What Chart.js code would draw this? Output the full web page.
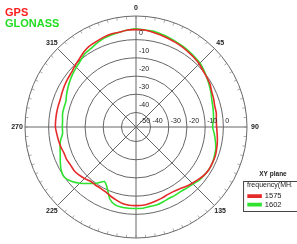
<!DOCTYPE html>
<html>
 <head>
  <meta charset="utf-8" />
  <title></title>
  <style>
   html, body { margin: 0; padding: 0; background: #fff; }
   canvas { display: block; }
  </style>
 </head>
 <body>
    <canvas id="xyChart" width="297" height="244"></canvas>

    <script src="https://cdn.jsdelivr.net/npm/chart.js@4/dist/chart.umd.min.js"></script>
  <script>

// azimuth every 5 degrees
var azimuth = ['0','5','10','15','20','25','30','35','40','45','50','55','60','65','70','75','80','85',
  '90','95','100','105','110','115','120','125','130','135','140','145','150','155','160','165','170','175',
  '180','185','190','195','200','205','210','215','220','225','230','235','240','245','250','255','260','265',
  '270','275','280','285','290','295','300','305','310','315','320','325','330','335','340','345','350','355'];

// gain in dB
var gps1575 = [5.5,5.5,4.9,4.4,3.8,3.3,2.8,2.2,1.7,1.1,
  0.1,-0.5,-1.0,-2.1,-2.6,-3.2,-3.2,-3.7,-3.7,-3.2,
  -2.6,-2.1,-1.6,-1.6,-1.6,-2.1,-3.2,-4.3,-5.3,-6.4,
  -7.0,-7.0,-6.4,-5.9,-5.3,-4.8,-4.8,-4.8,-5.3,-6.4,
  -7.5,-8.6,-9.1,-9.1,-9.1,-8.0,-7.0,-6.4,-6.4,-5.9,
  -5.9,-5.3,-4.8,-4.3,-3.7,-3.7,-3.7,-3.7,-3.7,-3.2,
  -2.6,-2.1,-1.6,-0.5,0.6,2.2,3.3,3.8,4.4,4.9,
  4.9,5.5];
var glonass1602 = [6.0,5.5,5.5,4.9,4.4,3.8,3.3,2.8,2.2,1.7,
  0.6,-0.5,-1.6,-2.6,-3.7,-4.3,-4.8,-5.3,-5.9,-4.8,
  -3.7,-2.6,-2.1,-1.6,-1.6,-2.1,-2.6,-3.7,-4.3,-4.8,
  -4.8,-4.8,-4.3,-3.7,-3.7,-3.2,-3.2,-3.2,-3.2,-3.7,
  -5.9,-10.7,-13.4,-10.2,-7.5,-4.3,-1.6,0.1,-0.5,-2.1,
  -3.7,-4.8,-5.9,-7.5,-7.5,-7.5,-7.0,-7.0,-7.0,-5.9,
  -4.8,-3.7,-2.6,-1.6,-0.5,1.1,1.7,2.8,3.8,4.4,
  4.9,5.5];

var rings = [-40, -30, -20, -10, 0, 13];
var vertTicks = ['-40','-30','-20','-10','0'];
var horizTicks = ['-50','-40','-30','-20','-10','0'];
var angleTicks = ['0','45','90','135','225','270','315'];

var red = '#e52a2a';
var green = '#2fe22f';
var gridCol = '#666';
var FONT = '"Liberation Sans", Arial, sans-serif';

/////////extra texts + tick labels
var decor = {
  id: 'decor',
  afterDraw: function (chart) {
    var ctx = chart.ctx;
    var sc = chart.scales.r;
    var cx = sc.xCenter, cy = sc.yCenter;
    var outer = sc.getDistanceFromCenterForValue(sc.max);
    ctx.save();

    // minor ticks on outer ring, one per azimuth label
    ctx.strokeStyle = '#888';
    ctx.lineWidth = 0.7;
    azimuth.forEach(function (lab, i) {
      var p0 = sc.getPointPosition(i, outer - 3);
      var p1 = sc.getPointPosition(i, outer);
      ctx.beginPath();
      ctx.moveTo(p0.x, p0.y);
      ctx.lineTo(p1.x, p1.y);
      ctx.stroke();
    });

    ctx.fillStyle = '#222';
    ctx.font = '7px ' + FONT;
    ctx.textBaseline = 'middle';
    ctx.textAlign = 'left';
    vertTicks.forEach(function (t) {
      var d = sc.getDistanceFromCenterForValue(Number(t));
      ctx.fillText(t, cx + 3, cy - d - 7);
    });
    horizTicks.forEach(function (t) {
      var d = Math.max(sc.getDistanceFromCenterForValue(Number(t)), 2);
      ctx.fillText(t, cx + d + 2, cy - 6);
    });

    ctx.font = 'bold 7px ' + FONT;
    ctx.textAlign = 'center';
    angleTicks.forEach(function (t) {
      var p = sc.getPointPosition(azimuth.indexOf(t), outer + 8);
      ctx.fillText(t, p.x, p.y);
    });

    ctx.font = 'bold 11px ' + FONT;
    ctx.textAlign = 'left';
    ctx.fillStyle = '#ff1c1c';
    ctx.fillText('GPS', 5, 13);
    ctx.fillStyle = '#22dd22';
    ctx.fillText('GLONASS', 5, 24);

    ctx.fillStyle = '#222';
    ctx.font = 'bold 6.5px ' + FONT;
    ctx.textAlign = 'center';
    ctx.fillText('XY plane', 273, 174);

    // frame round the legend
    var lg = chart.legend;
    ctx.strokeStyle = '#444';
    ctx.lineWidth = 1;
    ctx.strokeRect(lg.left - 3.5, lg.top + 167.5, 80, 30);
    ctx.restore();
  }
};

var popCanvas = document.getElementById("xyChart");
var radarChart = new Chart(popCanvas, {
    type: 'radar',
    data: {
        labels: azimuth,
        datasets: [
        {
        label: '1575',
        data: gps1575,
        fill: false,
        borderColor: red,
        backgroundColor: red,
        borderWidth: 1.6,
        pointRadius: 0,
        tension: 0.2
        },
        {
        label: '1602',
        data: glonass1602,
        fill: false,
        borderColor: green,
        backgroundColor: green,
        borderWidth: 1.6,
        pointRadius: 0,
        tension: 0.2
        }]
    },
    options: {
        responsive: false,
        animation: false,
        layout: { padding: { left: 25, right: 5.5, top: 14, bottom: 4 } },
        scales: {
            r: {
                min: -48,
                max: 13,
                afterBuildTicks: function (scale) {
                    scale.ticks = rings.map(function (v) { return { value: v }; });
                },
                ticks: { display: false },
                grid: { circular: true, color: gridCol, lineWidth: 1 },
                angleLines: {
                    color: gridCol,
                    lineWidth: function (c) { return c.index % 9 === 0 ? 1 : 0; }
                },
                pointLabels: { display: false }
            }
        },
        plugins: {
            tooltip: { enabled: false },
            legend: {
                position: 'right',
                align: 'start',
                title: {
                    display: true,
                    text: 'frequency(MHz)',
                    position: 'start',
                    color: '#222',
                    font: { family: FONT, size: 7 },
                    padding: { top: 168, bottom: 1 }
                },
                labels: {
                    boxWidth: 13,
                    boxHeight: 2,
                    padding: 1,
                    color: '#222',
                    font: { family: FONT, size: 7.5 }
                }
            }
        }
    },
    plugins: [decor]
});

  </script>

</body>
</html>
